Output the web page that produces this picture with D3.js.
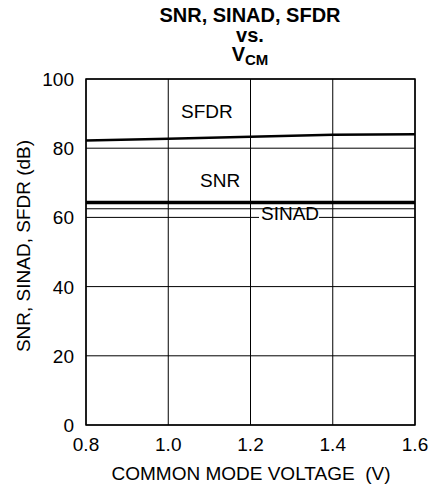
<!DOCTYPE html>
<html><head><meta charset="utf-8">
<script src="https://cdn.jsdelivr.net/npm/d3@7"></script>
<style>body{margin:0;background:#fff}svg{display:block;font-family:"Liberation Sans",Arial,sans-serif}</style>
</head><body><svg id="c" width="432" height="487"></svg>
<script>
const xValues = [0.8, 1.0, 1.2, 1.4, 1.6];
const sfdr = [82.2, 82.7, 83.3, 83.9, 84.0];
const snr = [64.3, 64.3, 64.3, 64.3, 64.3];
const sinad = [62.5, 62.5, 62.5, 62.5, 62.5];
const xTicks = [0.8, 1.0, 1.2, 1.4, 1.6];
const yTicks = [0, 20, 40, 60, 80, 100];

const svg = d3.select("#c");
const m = {l:86, r:415, t:79, b:425};
const x = d3.scaleLinear().domain([0.8,1.6]).range([m.l,m.r]);
const y = d3.scaleLinear().domain([0,100]).range([m.b,m.t]);

// grid
svg.append("g").selectAll("line").data(xTicks).join("line")
  .attr("x1",d=>x(d)).attr("x2",d=>x(d)).attr("y1",m.t).attr("y2",m.b)
  .attr("stroke","#000").attr("stroke-width",1);
svg.append("g").selectAll("line").data(yTicks).join("line")
  .attr("y1",d=>y(d)).attr("y2",d=>y(d)).attr("x1",m.l).attr("x2",m.r)
  .attr("stroke","#000").attr("stroke-width",1);

const line = d3.line().x((d,i)=>x(xValues[i])).y(d=>y(d));
svg.append("path").datum(sinad).attr("d",line).attr("fill","none").attr("stroke","#000").attr("stroke-width",1);
svg.append("path").datum(snr).attr("d",line).attr("fill","none").attr("stroke","#000").attr("stroke-width",3.5);
svg.append("path").datum(sfdr).attr("d",line).attr("fill","none").attr("stroke","#000").attr("stroke-width",2.5);

// frame
svg.append("rect").attr("x",m.l).attr("y",m.t).attr("width",m.r-m.l).attr("height",m.b-m.t)
  .attr("fill","none").attr("stroke","#000").attr("stroke-width",1.5);

// series labels
svg.append("text").attr("x",181).attr("y",118).attr("font-size",19).text("SFDR");
svg.append("text").attr("x",200).attr("y",187).attr("font-size",19).text("SNR");
const sl = svg.append("g");
sl.append("rect").attr("x",259).attr("y",211).attr("width",60).attr("height",12).attr("fill","#fff");
sl.append("text").attr("x",261).attr("y",220).attr("font-size",19).text("SINAD");

// axes labels
svg.append("g").selectAll("text").data(yTicks).join("text")
  .attr("x",74).attr("y",d=>y(d)+7).attr("text-anchor","end").attr("font-size",19).text(d=>d);
svg.append("g").selectAll("text").data(xTicks).join("text")
  .attr("x",d=>x(d)).attr("y",451).attr("text-anchor","middle").attr("font-size",19).text(d=>d.toFixed(1));

svg.append("text").attr("x",251).attr("y",480).attr("text-anchor","middle").attr("font-size",19)
  .attr("xml:space","preserve").style("white-space","pre").text("COMMON MODE VOLTAGE  (V)");
svg.append("text").attr("transform","translate(30,246) rotate(-90)").attr("text-anchor","middle")
  .attr("font-size",19).text("SNR, SINAD, SFDR (dB)");

// title
const tg = svg.append("g").attr("font-weight","bold").attr("font-size",20).attr("text-anchor","middle");
tg.append("text").attr("x",250).attr("y",22).text("SNR, SINAD, SFDR");
tg.append("text").attr("x",250).attr("y",42).text("vs.");
const t3 = tg.append("text").attr("x",250).attr("y",61);
t3.append("tspan").text("V");
t3.append("tspan").attr("font-size",15).attr("dy",4).text("CM");
</script></body></html>
